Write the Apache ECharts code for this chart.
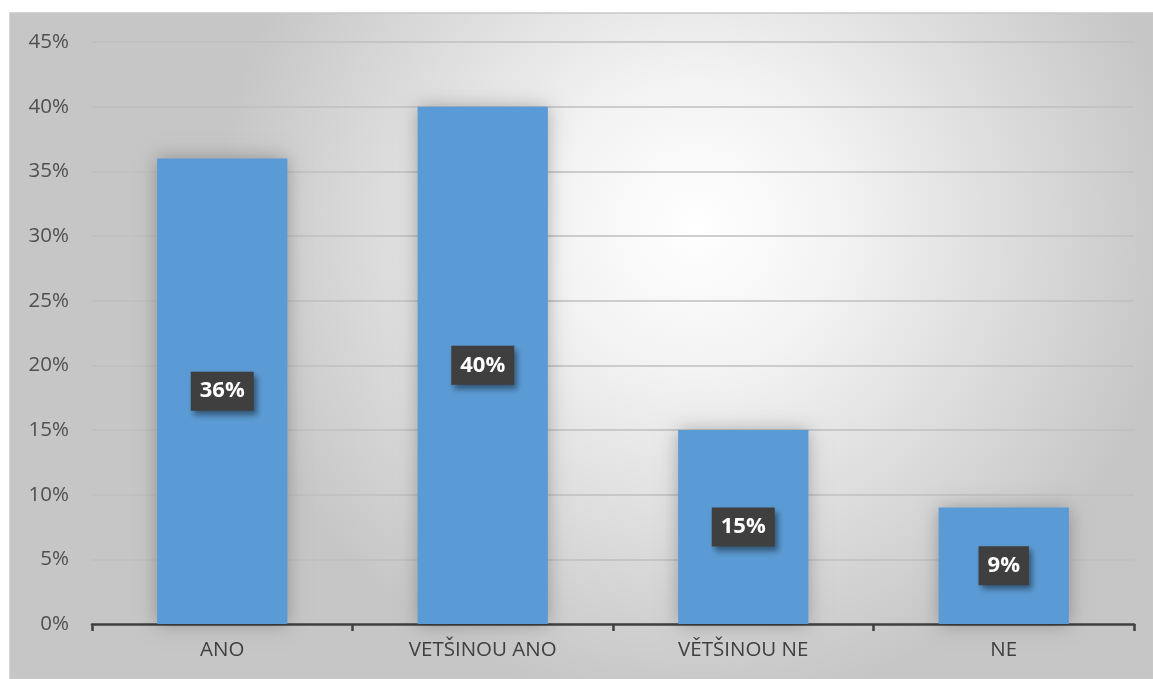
<!DOCTYPE html>
<html>
<head>
<meta charset="utf-8">
<script src="https://cdn.jsdelivr.net/npm/echarts@6/dist/echarts.min.js"></script>
<style>
html,body{margin:0;padding:0;background:#fff;}
#main{width:1153px;height:679px;}
</style>
</head>
<body>
<div id="main"></div>
<script>
var categories = ['ANO', 'VETŠINOU ANO', 'VĚTŠINOU NE', 'NE'];
var values = [36, 40, 15, 9];
var yTicks = [0, 5, 10, 15, 20, 25, 30, 35, 40, 45];

var chart = echarts.init(document.getElementById('main'));
var font = '"Open Sans", "Noto Sans", sans-serif';
chart.setOption({
  animation: false,
  graphic: [{
    type: 'rect',
    z: -10,
    silent: true,
    shape: {x: 10, y: 13, width: 1143, height: 666},
    style: {
      fill: new echarts.graphic.RadialGradient(0.6, 0.32, 0.72, [
        {offset: 0, color: '#ffffff'},
        {offset: 0.3, color: '#f3f3f3'},
        {offset: 1, color: '#c6c6c6'}
      ]),
      stroke: '#c8c8c8',
      lineWidth: 1.5
    }
  }],
  grid: {left: 92, right: 19, top: 42, bottom: 55, containLabel: false},
  xAxis: {
    type: 'category',
    data: categories,
    axisLine: {lineStyle: {color: '#404040', width: 2.5}},
    axisTick: {show: true, length: 7, lineStyle: {color: '#404040', width: 2.5}},
    axisLabel: {color: '#404040', fontSize: 20.5, fontFamily: font, margin: 16}
  },
  yAxis: {
    type: 'value',
    min: 0, max: 45, interval: 5,
    axisLine: {show: false},
    axisTick: {show: false},
    splitLine: {lineStyle: {color: '#bfbfbf', width: 1.5}},
    axisLabel: {
      color: '#505050', fontSize: 20.5, fontFamily: font, margin: 23,
      formatter: function (v) { return yTicks.indexOf(v) >= 0 ? v + '%' : ''; }
    }
  },
  series: [{
    type: 'bar',
    data: values,
    barWidth: '50%',
    itemStyle: {
      color: '#5b9bd5',
      shadowBlur: 18,
      shadowColor: 'rgba(0,0,0,0.28)',
      shadowOffsetX: 0,
      shadowOffsetY: 0
    },
    label: {
      show: true,
      position: 'inside',
      formatter: '{c}%',
      color: '#ffffff',
      fontWeight: 'bold',
      fontSize: 22,
      fontFamily: font,
      backgroundColor: '#3f3f3f',
      padding: [9, 9, 8, 9],
      shadowBlur: 6,
      shadowOffsetX: 3,
      shadowOffsetY: 4,
      shadowColor: 'rgba(0,0,0,0.45)'
    }
  }]
});
</script>
</body>
</html>
